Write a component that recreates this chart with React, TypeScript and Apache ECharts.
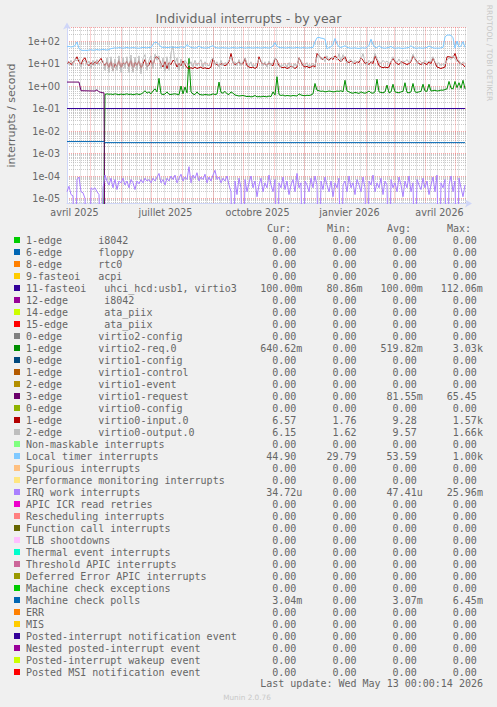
import React, { useEffect, useRef } from "react";
import * as echarts from "echarts";

const DAY_MS = 86400000;
const START = Date.UTC(2025, 3, 8);
const END = Date.UTC(2026, 4, 13);
const STEP_DAYS = 2;
const ZERO_FLOOR = 1e-9; // zero values fall below the log-axis floor (as rrdtool draws them)

const TITLE = "Individual interrupts - by year";
const Y_NAME = "interrupts / second";
const Y_MIN = 6e-6;
const Y_MAX = 400;

const X_LABELS = ["avril 2025", "juillet 2025", "octobre 2025", "janvier 2026", "avril 2026"];
const X_LABEL_DATES = [
  Date.UTC(2025, 3, 15, 12),
  Date.UTC(2025, 6, 15, 12),
  Date.UTC(2025, 9, 15, 12),
  Date.UTC(2026, 0, 15, 12),
  Date.UTC(2026, 3, 15, 12),
];

// ---- daily-ish series (one value every 2 days from START) ----
const LOCAL_TIMER = [
  56, 58, 54, 57, 62, 92, 46, 40, 38, 39, 38, 40, 41, 39, 40, 42, 40, 41, 43, 41, 40, 42,
  46, 48, 50, 49, 51, 50, 48, 50, 52, 49, 50, 51, 50, 49, 48, 50, 52, 51, 50, 52, 51,
  72, 90, 86, 70, 55, 52, 53, 51, 52, 54, 52, 53, 51, 52, 55, 53, 52, 70, 58, 52,
  50, 49, 51, 60, 52, 50, 49, 50, 51, 58, 62, 52, 50, 49, 50, 51, 49, 50, 48, 50, 51, 50, 49, 50, 52, 50, 49, 50, 51, 50, 49, 50, 51, 50, 49, 50, 51, 50, 49, 52, 60,
  85, 58, 52, 50, 51, 49, 50, 51, 50, 49, 50, 52, 50, 49, 51, 50, 49, 50, 51, 52,
  95, 140, 145, 135, 130, 120, 44, 52, 55, 70, 130, 75, 55, 52, 56, 62, 52,
  50, 48, 49, 50, 48, 47, 49, 50, 48, 52, 65, 120, 70, 52, 50, 62, 52, 49, 48, 50,
  52, 58, 50, 48, 49, 50, 48, 47, 49, 50, 52, 62, 52, 49, 48, 50, 49, 48, 50, 52,
  60, 54, 50, 48, 49, 48, 50, 52, 150, 185, 185, 180, 140, 48, 100, 55, 60, 95, 52,
];

const VIRTIO0_INPUT = [
  10, 12, 9, 11, 14, 20, 12, 9, 15, 18, 10, 8, 11, 9, 12, 10, 13, 17, 11,
  8, 12, 6, 14, 5, 10, 7, 15, 6, 11, 9, 13, 7, 16, 5, 12, 8, 14, 6, 10, 15, 7,
  9, 14, 8, 18, 20, 16, 10, 7, 12, 6, 11, 9, 14, 12, 7, 10, 8, 13, 9,
  6.5, 6, 6.5, 6, 7, 6, 6.5, 7, 6, 6.5, 6, 6, 7, 17, 10, 9, 8, 10, 9, 8, 9,
  12, 28, 11, 9, 10, 12, 9, 10, 17, 8, 7, 6.5, 7, 6, 7, 20, 12, 9, 10, 8, 11, 9, 8,
  17, 14, 8, 7, 6.5, 7, 6, 6.5, 8, 7, 6, 7, 18, 12, 8, 7, 7.5, 6.5, 7, 8, 7,
  28, 22, 18, 15, 20, 16, 14, 18, 15, 22, 18, 14, 12, 16, 20, 12, 11,
  13, 11, 10, 12, 11, 18, 14, 10, 11, 9, 12, 10, 22, 14, 8, 7, 6.5, 7, 6.5, 7, 12,
  17, 12, 10, 9, 12, 11, 10, 9, 10, 12, 22, 16, 12, 10, 9, 11, 10, 9, 12, 10,
  18, 11, 7, 6.5, 6, 6.5, 7, 20, 20, 19, 18, 28, 15, 11, 10, 9, 7,
];

const VIRTIO0_OUTPUT = [
  12, 9, 14, 8, 16, 13, 16, 7, 12, 14, 9, 13, 6, 14, 8, 15, 9, 12, 14,
  5, 18, 4, 20, 4.5, 16, 5, 22, 4, 18, 6, 20, 4, 24, 4, 19, 5, 22, 3.5, 17, 25, 5,
  14, 22, 6, 26, 14, 22, 6, 18, 4.5, 20, 5, 30, 60, 10, 18, 5, 16, 6, 14,
  10, 8, 12, 7, 14, 8, 11, 15, 7, 12, 9, 8, 14, 18, 9, 12, 7, 14, 8, 11, 10,
  14, 20, 10, 12, 8, 15, 8, 12, 18, 10, 8, 12, 7, 9, 10, 16, 14, 8, 12, 7, 13, 8, 11,
  18, 12, 10, 7, 9, 10, 7, 11, 9, 6.5, 10, 8, 17, 14, 9, 8, 11, 7, 9, 10, 8,
  20, 25, 15, 18, 12, 22, 13, 16, 20, 18, 14, 28, 12, 25, 15, 10, 14,
  15, 10, 14, 11, 13, 16, 28, 12, 9, 14, 11, 13, 28, 16, 12, 10, 14, 11, 13, 10, 12,
  20, 14, 11, 16, 10, 13, 12, 15, 11, 14, 26, 15, 10, 14, 12, 9, 14, 11, 13, 12,
  20, 12, 9, 11, 8, 10, 9, 14, 18, 15, 22, 16, 12, 14, 9, 12, 10,
];

const VIRTIO2_REQ = [
  0, 0, 0, 0, 0, 0, 0, 0, 0, 0, 0, 0, 0, 0, 0, 0, 0, 0, 0,
  0.42, 0.45, 0.43, 0.44, 0.42, 0.45, 0.43, 0.41, 0.44, 0.42, 0.43,
  0.45, 0.42, 0.44, 0.41, 0.43, 0.45, 0.42, 0.44, 0.5, 0.62, 0.48,
  0.55, 0.45, 0.6, 0.75, 0.55, 2.2, 0.45, 0.42, 0.44, 0.55, 0.43, 0.42,
  0.44, 0.45, 0.43, 0.41, 1.0, 0.45, 0.9,
  0.5, 17, 0.55, 0.44, 0.42, 0.55, 0.43, 0.41, 0.4, 0.42, 0.41, 0.4, 0.41,
  0.45, 0.42, 0.44, 1.5, 0.52, 0.48, 0.58, 0.45,
  0.42, 0.55, 0.48, 0.4, 0.38, 0.36, 0.37, 0.38,
  0.36, 0.34, 0.35, 0.33, 0.34, 0.38, 0.33,
  0.34, 0.33, 0.35, 0.34, 0.33, 0.36, 0.34, 0.55,
  0.4, 2.6, 0.42, 0.38, 0.4,
  0.36, 0.38, 0.37, 0.36, 0.38, 0.37, 0.36,
  0.45, 0.4, 0.38, 0.37, 0.39, 0.38, 0.4, 0.45, 1.3,
  0.65, 0.62, 0.58, 0.6, 0.55, 0.57, 0.6, 0.58, 0.55,
  0.56, 0.6, 0.58, 0.62, 0.55, 1.8, 0.6, 0.55,
  0.5, 0.48, 0.52, 0.5, 0.47, 0.55, 0.5, 0.48, 0.52, 0.6, 0.5, 0.48,
  0.55, 2.0, 0.55, 0.52, 0.5, 0.55, 1.1, 0.5, 0.55,
  1.2, 0.55, 0.52, 0.5, 0.55, 0.58, 1.4, 0.52, 0.5, 0.55,
  1.3, 0.55, 0.52, 0.55, 0.58, 1.2, 0.6, 0.58, 1.2, 0.6,
  0.62, 0.65, 0.6, 0.62, 0.66, 0.65, 0.7,
  0.75, 1.6, 0.8, 0.75, 1.6, 0.85, 1.4, 0.8, 1.8, 0.75,
];

const IRQ_WORK = [
  2e-5, 3.5e-5, 1.5e-5, 1.3e-5, 0, 7e-5, 9e-5, 2e-5, 1.8e-5, 1e-5, 0, 0, 3e-5, 2.5e-5, 3e-5, 2e-5, 1.5e-5, 0, 3e-5,
  1.1e-4, 6e-5, 4e-5, 8e-5, 3e-5, 7e-5, 2.5e-5, 6e-5, 5e-5, 8e-5, 4e-5,
  6e-5, 3e-5, 7e-5, 5e-5, 2.5e-5, 6e-5, 4.5e-5, 7e-5, 5e-5, 8e-5, 6e-5,
  7e-5, 5e-5, 8e-5, 6e-5, 9e-5, 1.3e-4, 5e-5, 7e-5, 4e-5, 8e-5, 6e-5, 1e-4,
  7e-5, 1.1e-4, 5e-5, 8e-5, 1.2e-4, 6e-5, 9e-5,
  7e-5, 2.6e-4, 5e-5, 1.1e-4, 8e-5, 1.4e-4, 6e-5, 9e-5, 7e-5, 1.2e-4, 5e-5, 9e-5, 6e-5,
  1.1e-4, 1.8e-4, 7e-5, 9e-5, 5e-5, 8e-5, 6e-5, 1e-4, 4e-5,
  2e-5, 0, 6e-5, 1.5e-5, 8e-5, 3e-5, 0, 7e-5, 2e-5, 5e-5,
  1e-4, 3e-5, 6e-5, 1.2e-5, 4e-5, 8e-5, 2e-5, 5e-5, 3e-5, 1.1e-4,
  4e-5, 2e-5, 7e-5, 0, 5e-5, 3e-5, 9e-5, 2.5e-5, 6e-5, 1.5e-5,
  4e-5, 7e-5, 2e-5, 1.3e-4, 3e-5, 5e-5, 0, 6e-5, 4e-5, 2e-5,
  8e-5, 3e-5, 1e-4, 4e-5, 0, 6e-5, 2.5e-5, 9e-5, 4e-5, 2e-5,
  6e-5, 1.2e-5, 5e-5, 3e-5, 8e-5, 0, 4e-5, 6e-5, 2e-5, 1e-4,
  3e-5, 5e-5, 1.5e-5, 7e-5, 4e-5, 2e-5, 9e-5, 3e-5, 0, 6e-5,
  4e-5, 1.1e-4, 2e-5, 5e-5, 3e-5, 8e-5, 1.5e-5, 6e-5, 4e-5, 0,
  7e-5, 3e-5, 5e-5, 2e-5, 9e-5, 4e-5, 1.2e-5, 6e-5, 3e-5, 1e-4,
  2e-5, 5e-5, 0, 7e-5, 4e-5, 2.5e-5, 8e-5, 3e-5, 6e-5, 1.5e-5,
  4e-5, 9e-5, 2e-5, 1.1e-4, 0, 5e-5, 3e-5, 7e-5, 0, 4e-5,
  1e-4, 2e-5, 6e-5, 0, 8e-5, 3e-5, 1.2e-5, 4e-5,
];

// ---- step-like series: day offsets and values ----
const FASTEOI11_DAYS = [0, 398];
const FASTEOI11_VALUES = [0.1, 0.1];
const MCE_POLL_DAYS = [0, 37, 38, 398];
const MCE_POLL_VALUES = [3.4e-3, 3.4e-3, 3.05e-3, 3.05e-3];
const VIRTIO1_REQ_DAYS = [0, 12, 14, 28, 30, 32, 36, 37, 38, 398];
const VIRTIO1_REQ_VALUES = [1.5, 1.5, 0.62, 0.6, 0.68, 0.55, 0.5, 0.5, 0, 0];

// ---- legend table ----
const LEGEND_NAMES = [
  "1-edge      i8042",
  "6-edge      floppy",
  "8-edge      rtc0",
  "9-fasteoi   acpi",
  "11-fasteoi   uhci_hcd:usb1, virtio3",
  "12-edge      i8042",
  "14-edge      ata_piix",
  "15-edge      ata_piix",
  "0-edge      virtio2-config",
  "1-edge      virtio2-req.0",
  "0-edge      virtio1-config",
  "1-edge      virtio1-control",
  "2-edge      virtio1-event",
  "3-edge      virtio1-request",
  "0-edge      virtio0-config",
  "1-edge      virtio0-input.0",
  "2-edge      virtio0-output.0",
  "Non-maskable interrupts",
  "Local timer interrupts",
  "Spurious interrupts",
  "Performance monitoring interrupts",
  "IRQ work interrupts",
  "APIC ICR read retries",
  "Rescheduling interrupts",
  "Function call interrupts",
  "TLB shootdowns",
  "Thermal event interrupts",
  "Threshold APIC interrupts",
  "Deferred Error APIC interrupts",
  "Machine check exceptions",
  "Machine check polls",
  "ERR",
  "MIS",
  "Posted-interrupt notification event",
  "Nested posted-interrupt event",
  "Posted-interrupt wakeup event",
  "Posted MSI notification event",
];
const LEGEND_COLORS = [
  "#00CC00", "#0066B3", "#FF8000", "#FFCC00", "#330099", "#990099", "#CCFF00", "#FF0000",
  "#808080", "#008F00", "#00487D", "#B35A00", "#B38F00", "#6B006B", "#8FB300", "#B30000",
  "#BEBEBE", "#80FF80", "#80C9FF", "#FFC080", "#FFE680", "#AA80FF", "#EE00CC", "#FF8080",
  "#666600", "#FFBFFF", "#00FFCC", "#CC6699", "#999900", "#00CC00", "#0066B3", "#FF8000",
  "#FFCC00", "#330099", "#990099", "#CCFF00", "#FF0000",
];
const Z = "0.00";
const CUR = [Z, Z, Z, Z, "100.00m", Z, Z, Z, Z, "640.62m", Z, Z, Z, Z, Z, "6.57", "6.15", Z, "44.90", Z, Z, "34.72u", Z, Z, Z, Z, Z, Z, Z, Z, "3.04m", Z, Z, Z, Z, Z, Z];
const MIN = [Z, Z, Z, Z, "80.86m", Z, Z, Z, Z, Z, Z, Z, Z, Z, Z, "1.76", "1.62", Z, "29.79", Z, Z, Z, Z, Z, Z, Z, Z, Z, Z, Z, Z, Z, Z, Z, Z, Z, Z];
const AVG = [Z, Z, Z, Z, "100.00m", Z, Z, Z, Z, "519.82m", Z, Z, Z, "81.55m", Z, "9.28", "9.57", Z, "53.59", Z, Z, "47.41u", Z, Z, Z, Z, Z, Z, Z, Z, "3.07m", Z, Z, Z, Z, Z, Z];
const MAX = [Z, Z, Z, Z, "112.06m", Z, Z, Z, Z, "3.03k", Z, Z, Z, "65.45", Z, "1.57k", "1.66k", Z, "1.00k", Z, Z, "25.96m", Z, Z, Z, Z, Z, Z, Z, Z, "6.45m", Z, Z, Z, Z, Z, Z];
const HEADERS = ["Cur:", "Min:", "Avg:", "Max:"];
const LAST_UPDATE = "Last update: Wed May 13 00:00:14 2026";
const MUNIN_VERSION = "Munin 2.0.76";
const RRD_CREDIT = "RRDTOOL / TOBI OETIKER";

// ---- styling ----
const FONT = "DejaVu Sans";
const MONO = "DejaVu Sans Mono";
const TEXT = "#666666";
const AXIS_COLOR = "#CFD6F8";
const MAJOR_GRID = "rgba(240,20,20,0.38)";
const MINOR_GRID = "rgba(140,140,140,0.45)";
const CHAR_W = 6.02;
const ROW0 = 240;
const ROW_H = 12;
const NUM_RIGHT = [296.3, 356.5, 416.7, 476.9];
const HEADER_X = [267, 327, 387, 447];

function stepPoints(values: number[]) {
  return values.map((v, i) => [START + i * STEP_DAYS * DAY_MS, v > 0 ? v : ZERO_FLOOR]);
}
function dayPoints(days: number[], values: number[]) {
  return days.map((d, i) => [START + d * DAY_MS, values[i] > 0 ? values[i] : ZERO_FLOOR]);
}

const SERIES = [
  { idx: 4, data: dayPoints(FASTEOI11_DAYS, FASTEOI11_VALUES) },
  { idx: 9, data: stepPoints(VIRTIO2_REQ) },
  { idx: 13, data: dayPoints(VIRTIO1_REQ_DAYS, VIRTIO1_REQ_VALUES) },
  { idx: 15, data: stepPoints(VIRTIO0_INPUT) },
  { idx: 16, data: stepPoints(VIRTIO0_OUTPUT) },
  { idx: 18, data: stepPoints(LOCAL_TIMER) },
  { idx: 21, data: stepPoints(IRQ_WORK) },
  { idx: 30, data: dayPoints(MCE_POLL_DAYS, MCE_POLL_VALUES) },
];

function monthStarts() {
  const out: number[] = [];
  for (let m = 4; m <= 16; m++) out.push(Date.UTC(2025, m, 1));
  return out;
}
function weekLines() {
  const out: number[] = [];
  for (let t = Date.UTC(2025, 3, 14); t < END; t += 7 * DAY_MS) out.push(t);
  return out;
}

function txt(text: string, x: number, y: number, opts: any = {}) {
  const align = opts.align || "left";
  return {
    type: "text",
    silent: true,
    x: 0,
    y: 0,
    rotation: opts.rotation || 0,
    originX: x,
    originY: y,
    style: {
      text,
      x,
      y,
      fill: opts.fill || TEXT,
      fontSize: opts.size || 10,
      fontFamily: opts.family || MONO,
      textAlign: align,
      align,
      textVerticalAlign: "middle",
      verticalAlign: "middle",
    },
  };
}

function buildGraphics() {
  const g: any[] = [];
  HEADERS.forEach((h, c) => g.push(txt(h, HEADER_X[c], ROW0 - ROW_H)));
  LEGEND_NAMES.forEach((name, i) => {
    const cy = ROW0 + i * ROW_H;
    g.push({
      type: "rect",
      silent: true,
      shape: { x: 14, y: cy - 3, width: 6, height: 6 },
      style: { fill: LEGEND_COLORS[i] },
    });
    const m = name.match(/^(\S+)(\s{2,})(.*)$/);
    if (m) {
      g.push(txt(m[1], 26, cy));
      g.push(txt(m[3], 26 + (m[1].length + m[2].length) * CHAR_W, cy));
    } else {
      g.push(txt(name, 26, cy));
    }
    [CUR[i], MIN[i], AVG[i], MAX[i]].forEach((s, c) => {
      const suffix = /[a-zA-Z]$/.test(s);
      g.push(txt(s, NUM_RIGHT[c] + (suffix ? CHAR_W : 0), cy, { align: "right" }));
    });
  });
  g.push(txt(LAST_UPDATE, 483, ROW0 + LEGEND_NAMES.length * ROW_H - 0.5, { align: "right" }));
  g.push(txt(MUNIN_VERSION, 247, 697, { align: "center", family: FONT, size: 7.3, fill: "#c8c8c8" }));
  g.push(txt(RRD_CREDIT, 489, 53, { align: "center", family: FONT, size: 7.5, fill: "#c8c8c8", rotation: -Math.PI / 2 }));
  return g;
}

function yLabel(v: number) {
  const e = Math.log10(v);
  const r = Math.round(e);
  if (Math.abs(e - r) > 1e-6) return "";
  return "1e" + (r < 0 ? "-" : "+") + String(Math.abs(r)).padStart(2, "0");
}

export default function App() {
  const ref = useRef<HTMLDivElement>(null);
  useEffect(() => {
    document.body.style.margin = "0";
    document.body.style.background = "#F0F0F0";
    const chart = echarts.init(ref.current!, null, { renderer: "svg" });
    const option: any = {
      animation: false,
      backgroundColor: "#F0F0F0",
      title: {
        text: TITLE,
        left: "center",
        top: 12,
        padding: 0,
        textStyle: { fontFamily: FONT, fontSize: 12.5, fontWeight: "normal", color: TEXT },
      },
      grid: {
        left: 67,
        top: 27.5,
        width: 400,
        height: 176,
        show: true,
        backgroundColor: "#FFFFFF",
        borderWidth: 0,
        containLabel: false,
        outerBoundsMode: "none",
      },
      xAxis: [
        {
          type: "value",
          min: START,
          max: END,
          axisLine: {
            show: true,
            lineStyle: { color: AXIS_COLOR, width: 1 },
            symbol: ["none", "arrow"],
            symbolSize: [6, 7],
            symbolOffset: [0, 5],
          },
          axisTick: { show: false, customValues: monthStarts() },
          axisLabel: {
            customValues: X_LABEL_DATES,
            formatter: (v: number) => {
              const k = X_LABEL_DATES.findIndex((d) => Math.abs(d - v) < DAY_MS);
              return k >= 0 ? X_LABELS[k] : "";
            },
            color: TEXT,
            fontFamily: FONT,
            fontSize: 9.6,
            margin: 4,
          },
          splitLine: { show: true, lineStyle: { color: MAJOR_GRID, type: [1, 1], width: 1 } },
          z: 2,
        },
        {
          type: "value",
          min: START,
          max: END,
          position: "top",
          axisLine: { show: false },
          axisLabel: { show: false },
          axisTick: { show: false, customValues: weekLines() },
          splitLine: { show: true, lineStyle: { color: MINOR_GRID, type: [1, 1], width: 1 } },
          z: 1,
        },
      ],
      yAxis: {
        type: "log",
        logBase: 10,
        min: Y_MIN,
        max: Y_MAX,
        name: Y_NAME,
        nameLocation: "middle",
        nameGap: 50,
        nameTextStyle: { fontFamily: FONT, fontSize: 11, color: TEXT },
        axisLine: {
          show: true,
          lineStyle: { color: AXIS_COLOR, width: 1 },
          symbol: ["none", "arrow"],
          symbolSize: [6, 7],
          symbolOffset: [0, 5],
        },
        axisTick: { show: false },
        axisLabel: {
          formatter: yLabel,
          showMinLabel: false,
          showMaxLabel: false,
          color: TEXT,
          fontFamily: FONT,
          fontSize: 9.6,
          margin: 7,
        },
        splitLine: { show: true, lineStyle: { color: MAJOR_GRID, type: [1, 1], width: 1 } },
        minorTick: { show: false, splitNumber: 9 },
        minorSplitLine: { show: true, lineStyle: { color: MINOR_GRID, type: [1, 1], width: 1 } },
      },
      series: SERIES.map((s, k) => ({
        type: "line",
        name: LEGEND_NAMES[s.idx],
        data: s.data,
        xAxisIndex: 0,
        yAxisIndex: 0,
        showSymbol: false,
        symbol: "none",
        silent: true,
        z: 3 + k,
        lineStyle: { width: 1, color: LEGEND_COLORS[s.idx] },
        itemStyle: { color: LEGEND_COLORS[s.idx] },
      })),
      graphic: buildGraphics(),
    };
    chart.setOption(option);
    return () => chart.dispose();
  }, []);
  return (
    <div
      ref={ref}
      style={{ position: "fixed", left: 0, top: 0, width: 497, height: 707, background: "#F0F0F0" }}
    />
  );
}
